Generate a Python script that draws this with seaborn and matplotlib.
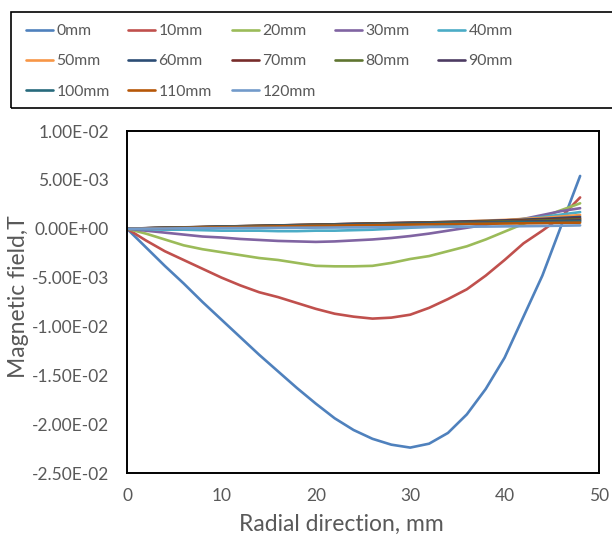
import numpy as np
import pandas as pd
import matplotlib
matplotlib.use("Agg")
import matplotlib.pyplot as plt
from matplotlib.patches import Rectangle
from matplotlib.ticker import FuncFormatter, FixedLocator
import seaborn as sns

# ---------------- data (field values in units of 1e-3 T) ----------------
radial_mm = [0, 2, 4, 6, 8, 10, 12, 14, 16, 18, 20, 22, 24,
             26, 28, 30, 32, 34, 36, 38, 40, 42, 44, 46, 48]

series_names = ["0mm", "10mm", "20mm", "30mm", "40mm", "50mm", "60mm",
                "70mm", "80mm", "90mm", "100mm", "110mm", "120mm"]

b_0mm = [0, -1.9, -3.8, -5.6, -7.5, -9.3, -11.1, -12.9, -14.6, -16.3, -17.9, -19.4, -20.6,
         -21.5, -22.1, -22.4, -22.0, -20.9, -19.0, -16.4, -13.2, -9.0, -4.8, 0.3, 5.4]
b_10mm = [0, -1.2, -2.3, -3.2, -4.1, -5.0, -5.8, -6.5, -7.0, -7.6, -8.2, -8.7, -9.0,
          -9.2, -9.1, -8.8, -8.1, -7.2, -6.2, -4.8, -3.2, -1.5, -0.2, 1.2, 3.2]
b_20mm = [0, -0.5, -1.1, -1.7, -2.1, -2.4, -2.7, -3.0, -3.2, -3.5, -3.8, -3.85, -3.85,
          -3.8, -3.5, -3.1, -2.8, -2.3, -1.8, -1.1, -0.3, 0.5, 1.2, 1.9, 2.6]
b_30mm = [0, -0.2, -0.4, -0.6, -0.8, -0.9, -1.05, -1.15, -1.25, -1.3, -1.35, -1.3, -1.2,
          -1.1, -0.95, -0.75, -0.5, -0.2, 0.1, 0.4, 0.7, 1.0, 1.4, 1.8, 2.1]
b_40mm = [0, -0.05, -0.1, -0.1, -0.15, -0.2, -0.2, -0.2, -0.25, -0.25, -0.2, -0.2, -0.15,
          -0.1, 0.0, 0.1, 0.2, 0.35, 0.5, 0.65, 0.85, 1.0, 1.2, 1.45, 1.7]
b_50mm = [0, 0.04, 0.09, 0.12, 0.17, 0.2, 0.25, 0.28, 0.32, 0.37, 0.4, 0.45, 0.48,
          0.52, 0.57, 0.6, 0.65, 0.7, 0.76, 0.83, 0.9, 1.0, 1.1, 1.25, 1.4]
b_60mm = [0, 0.05, 0.09, 0.14, 0.17, 0.21, 0.26, 0.29, 0.33, 0.38, 0.41, 0.45, 0.5,
          0.53, 0.57, 0.61, 0.65, 0.69, 0.74, 0.79, 0.85, 0.92, 1.0, 1.1, 1.2]
b_70mm = [0, 0.05, 0.1, 0.13, 0.17, 0.22, 0.25, 0.29, 0.34, 0.37, 0.41, 0.45, 0.49,
          0.53, 0.56, 0.6, 0.63, 0.67, 0.71, 0.75, 0.8, 0.86, 0.92, 0.99, 1.05]
b_80mm = [0, 0.04, 0.08, 0.12, 0.16, 0.2, 0.24, 0.28, 0.31, 0.35, 0.39, 0.43, 0.46,
          0.5, 0.53, 0.57, 0.6, 0.63, 0.67, 0.71, 0.75, 0.79, 0.84, 0.9, 0.95]
b_90mm = [0, 0.04, 0.08, 0.11, 0.15, 0.19, 0.22, 0.26, 0.3, 0.33, 0.37, 0.4, 0.44,
          0.47, 0.5, 0.53, 0.56, 0.59, 0.62, 0.65, 0.68, 0.72, 0.76, 0.8, 0.85]
b_100mm = [0, 0.04, 0.07, 0.11, 0.14, 0.18, 0.21, 0.24, 0.28, 0.31, 0.34, 0.37, 0.4,
           0.43, 0.46, 0.49, 0.52, 0.55, 0.57, 0.6, 0.63, 0.66, 0.69, 0.72, 0.75]
b_110mm = [0, 0.03, 0.06, 0.09, 0.12, 0.15, 0.18, 0.21, 0.24, 0.27, 0.3, 0.32, 0.35,
           0.37, 0.4, 0.42, 0.44, 0.47, 0.49, 0.51, 0.53, 0.55, 0.57, 0.6, 0.62]
b_120mm = [0, 0.01, 0.02, 0.04, 0.05, 0.06, 0.07, 0.08, 0.09, 0.1, 0.11, 0.12, 0.13,
           0.14, 0.15, 0.16, 0.18, 0.19, 0.21, 0.22, 0.24, 0.26, 0.28, 0.31, 0.34]

all_series = [b_0mm, b_10mm, b_20mm, b_30mm, b_40mm, b_50mm, b_60mm,
              b_70mm, b_80mm, b_90mm, b_100mm, b_110mm, b_120mm]

y_ticks = [-0.025, -0.02, -0.015, -0.01, -0.005, 0.0, 0.005, 0.01]
x_ticks = [0, 10, 20, 30, 40, 50]

colors = ["#4F81BD", "#C0504D", "#9BBB59", "#8064A2", "#4BACC6", "#F79646",
          "#2C4D75", "#772C2A", "#5F7530", "#4D3B62", "#276A7C", "#B65708", "#729ACA"]

# ---------------- build long table ----------------
rows = []
for name, vals in zip(series_names, all_series):
    for xv, yv in zip(radial_mm, vals):
        rows.append({"r": xv, "B": yv * 1e-3, "series": name})
df = pd.DataFrame(rows)

sns.set_theme(style="white")
plt.rcParams["font.family"] = ["Lato", "DejaVu Sans"]

W, H = 612, 541
fig = plt.figure(figsize=(W / 100, H / 100), dpi=100)
ax = fig.add_axes([127 / W, 1 - 473 / H, 472 / W, 342 / H])

sns.lineplot(data=df, x="r", y="B", hue="series", hue_order=series_names,
             palette=colors, sort=False, linewidth=1.9, ax=ax, legend=True)

handles, labels = ax.get_legend_handles_labels()
ax.get_legend().remove()

ax.set_xlim(0, 50)
ax.set_ylim(-0.025, 0.01)
ax.xaxis.set_major_locator(FixedLocator(x_ticks))
ax.yaxis.set_major_locator(FixedLocator(y_ticks))
ax.yaxis.set_major_formatter(FuncFormatter(lambda v, p: f"{v:.2E}"))
ax.tick_params(axis="both", length=0, labelsize=12.5, labelcolor="#595959")
ax.tick_params(axis="y", pad=13)
ax.tick_params(axis="x", pad=11)
for s in ax.spines.values():
    s.set_visible(True)
    s.set_color("black")
    s.set_linewidth(1.4)
ax.grid(False)

ax.set_xlabel("Radial direction, mm", fontsize=16.5, color="#595959")
ax.set_ylabel("Magnetic field,T", fontsize=16.5, color="#595959")
ax.xaxis.set_label_coords((341 - 127) / 472, -(514 - 473) / 342)
ax.yaxis.set_label_coords(-(127 - 29) / 472, (473 - 297) / 342)

# legend: one single-column legend per column, 5 columns, rows read left to right
col_x = [26, 128, 232, 335, 438]
for c in range(5):
    idx = list(range(c, len(handles), 5))
    leg = fig.legend([handles[i] for i in idx], [labels[i] for i in idx],
                     ncol=1, loc="upper left",
                     bbox_to_anchor=(col_x[c] / W, 1 - 24 / H), frameon=False,
                     fontsize=11.3, handlelength=1.75, handletextpad=0.2,
                     labelspacing=1.05, borderpad=0, borderaxespad=0)
    for t in leg.get_texts():
        t.set_color("#595959")
    for h in leg.legend_handles:
        h.set_linewidth(1.9)

fig.patches.append(Rectangle((11 / W, 1 - 108 / H), (640 - 11) / W, 96 / H,
                             transform=fig.transFigure, fill=False,
                             edgecolor="black", linewidth=1.2))

fig.savefig("out.png", dpi=100)
